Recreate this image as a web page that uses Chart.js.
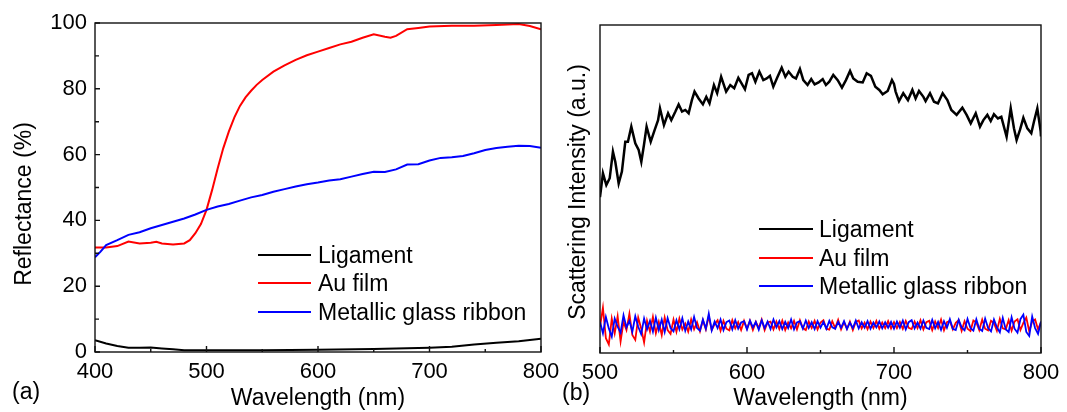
<!DOCTYPE html>
<html><head><meta charset="utf-8">
<script src="https://cdn.jsdelivr.net/npm/chart.js@4.4.1/dist/chart.umd.min.js"></script>
<style>
html,body{margin:0;padding:0;background:#fff;width:1067px;height:412px;overflow:hidden}
#wa{position:absolute;left:0;top:0;width:570px;height:412px}
#wb{position:absolute;left:550px;top:0;width:517px;height:412px}
</style></head><body>
<div id="wa"><canvas id="ca" width="570" height="412"></canvas></div>
<div id="wb"><canvas id="cb" width="517" height="412"></canvas></div>
<script>
// ---------- text ----------
const seriesNames = ['Ligament', 'Au film', 'Metallic glass ribbon'];
const seriesColors = ['#000000', '#ff0000', '#0000ff'];
const xTitle = 'Wavelength (nm)';
const yTitleA = 'Reflectance (%)';
const yTitleB = 'Scattering Intensity (a.u.)';
const panelLabelA = '(a)';
const panelLabelB = '(b)';

// ---------- panel (a): reflectance ----------
const ligWlA = [400,410,420,430,440,450,460,470,480,500,550,600,650,700,720,740,760,780,800];
const ligRA  = [3.6,2.6,1.8,1.3,1.3,1.4,1.1,0.8,0.5,0.5,0.5,0.7,0.9,1.3,1.6,2.3,2.8,3.3,4.0];

const auWlA = [400,410,420,430,440,450,455,460,470,480,485,490,495,500,505,510,515,520,525,530,535,540,545,550,560,570,580,590,600,610,620,630,640,650,660,665,670,680,690,700,720,740,760,780,790,800];
const auRA  = [31.8,31.8,32.2,33.6,33.0,33.2,33.5,33.0,32.7,33.0,34.0,36.1,38.9,43.2,49.2,55.8,61.9,67.0,71.3,74.8,77.4,79.4,81.2,82.7,85.2,87.1,88.8,90.2,91.3,92.4,93.5,94.3,95.5,96.6,95.8,95.5,96.1,98.1,98.5,98.9,99.2,99.2,99.4,99.7,99.1,98.1];

const ribWlA = [400,405,410,420,430,440,450,460,470,480,490,500,510,520,530,540,550,560,570,580,590,600,610,620,630,640,650,660,670,680,690,700,710,720,730,740,750,760,770,780,790,800];
const ribRA  = [28.8,30.5,32.5,34.0,35.6,36.4,37.6,38.6,39.6,40.6,41.8,43.2,44.2,45.0,46.0,47.0,47.7,48.7,49.5,50.3,51.0,51.5,52.1,52.5,53.3,54.1,54.8,54.7,55.5,57.0,57.1,58.2,59.0,59.2,59.6,60.4,61.4,62.0,62.4,62.7,62.6,62.1];

// ---------- panel (b): scattering intensity (arbitrary units 0-100) ----------
const ligWlB = [500,502,504.3,506.6,508.8,510.4,512.7,514.9,517.2,519,521.3,524,526.3,528.1,529.9,531.7,534.5,537.2,539.5,540.8,543.5,546.3,548.5,551.3,553.5,555.8,558,560.3,562.5,564.3,567.1,570,572.3,574.5,577.5,579.7,582.4,585.8,588.6,591.3,594.1,596.3,598.6,601.1,603.4,605.7,608.4,611.1,613.4,615.6,617.9,620.8,623.6,626.1,628.3,631.1,633.3,636,638.3,641.2,643.7,646,648.7,651.5,653.7,656,658.7,661.7,664.6,667.3,670.1,672.3,675.3,678.7,681.4,684.3,687.3,690,692.3,695.7,698.6,700,701.1,703.4,706.3,709.5,712.5,714.7,717,720,721.5,724.5,727.2,729.9,733.1,736.3,739,742.6,746.5,749.4,752.2,755.6,758.5,760.8,763.5,765.8,768,770.7,773,776.6,779.4,781.6,783.4,785.7,788,790.7,793.4,795.2,797.5,799.8,800];
const ligIB  = [47.5,54.8,51.2,53.3,61.4,58.3,51.7,55.3,64.4,64.4,69,63.9,61.9,58.3,63.4,69,64.4,68,71,74.6,69.5,73.1,71,73.6,75.8,73.6,74.1,73.1,77.1,79.7,77.6,75.8,78.1,76.1,81.7,79.2,84.2,79.7,81.7,80.7,83.9,82.2,80.4,84.8,85.3,82.7,85.8,83.2,83.7,84.5,81.2,84.2,87,84.2,85.8,84.2,83.7,86.6,83.2,81.7,83.5,81.9,82.5,83.5,81.7,82.7,84.8,83.2,80.9,83.2,86,83.7,82.7,82.5,85.3,84.5,81.2,80.2,78.9,79.9,83.2,82.0,79.7,76.8,79.2,77.1,80.2,77.6,79.9,78.1,76.8,79.2,76.6,76.1,79.2,77.1,74.1,72.6,74.8,72.6,70,73.1,69,71,72.6,70.7,72.8,71.5,72,65.9,74.6,68.5,64.9,68,71.7,68.5,67,70.5,74.6,67.5,66];

const noiseStartB = 500;   // nm
const noiseStepB = 2;      // nm
const auIB = [
 8.0,13.8,4.5,2.6,10.5,6.0,11.2,3.5,9.5,7.0,
 12.0,5.5,4.0,10.8,7.5,3.2,9.8,6.5,11.0,6.0,
 9.5,5.5,10.8,7.0,5.8,10.2,6.5,10.5,7.2,9.0,
 6.5,10.2,7.2,9.4,6.6,10.0,7.2,11.2,7.0,8.8,
 10.0,6.8,9.8,7.4,6.9,10.0,7.5,9.4,7.0,9.8,
 7.4,9.8,7.0,9.5,7.6,10.2,7.0,9.3,9.6,7.2,
 9.6,7.3,9.9,7.0,9.3,7.5,9.8,7.2,10.0,7.6,
 7.0,9.6,7.6,9.8,7.2,9.3,10.0,7.4,7.1,9.7,
 7.6,10.1,7.2,9.4,7.4,9.6,7.0,9.5,9.9,7.5,
 9.3,7.3,9.6,7.6,9.8,7.4,9.3,7.6,9.7,7.5,
 9.4,7.6,9.5,7.4,9.8,7.7,7.3,9.6,7.6,10.0,
 7.2,9.4,9.8,7.0,9.6,7.6,10.2,6.9,9.4,9.8,
 7.2,9.2,10.0,6.8,9.7,7.4,6.7,9.9,9.3,7.0,
 10.2,7.4,6.9,9.8,9.1,6.8,10.4,7.5,7.2,10.0,
 6.8,9.6,10.3,7.0,9.2,10.8,6.6,9.6,10.2,7.2,
 9.4];
const ribIB = [
 9.5,6.0,11.0,7.5,5.0,10.5,8.0,6.2,11.5,7.8,
 9.8,6.5,11.2,8.0,5.8,10.5,7.2,9.8,6.5,10.8,
 7.0,10.2,6.4,10.6,7.6,6.6,10.0,7.2,10.6,6.8,
 9.6,7.2,11.0,7.6,6.8,10.2,7.4,12.0,6.9,9.6,
 7.6,10.2,7.0,9.4,9.9,7.2,10.0,7.4,9.3,9.7,
 7.2,9.9,7.8,9.5,7.1,10.0,7.6,9.6,7.3,10.2,
 7.8,9.7,7.3,9.5,7.6,10.2,7.2,9.3,9.7,7.4,
 9.9,7.6,9.4,7.3,9.7,7.7,9.5,7.4,9.8,7.8,
 7.4,9.5,7.7,9.7,7.3,9.3,7.6,9.9,7.5,9.4,
 7.7,9.7,7.4,9.3,7.8,9.6,7.5,9.4,7.7,9.5,
 7.4,9.6,7.7,9.9,7.2,9.4,10.0,7.5,9.3,7.4,
 9.9,7.7,7.3,10.1,7.5,9.5,7.1,9.7,7.7,10.3,
 7.4,7.0,10.1,7.8,6.9,10.4,7.6,6.8,10.3,7.4,
 6.7,10.5,7.6,6.6,10.2,7.8,6.3,10.7,7.2,6.4,
 10.9,7.4,6.2,10.3,11.7,6.4,5.2,11.1,7.6,5.8,
 9.6];

// ---------- helpers ----------
const FONT = "'Liberation Sans', Arial, Helvetica, sans-serif";
const pairs = (xs, ys) => xs.map((x, i) => ({x: x, y: ys[i]}));
const evenPairs = (start, step, ys) => ys.map((y, i) => ({x: start + i * step, y: y}));

const decorPlugin = {
  id: 'decor',
  afterDraw(chart, args, o) {
    const ctx = chart.ctx, a = chart.chartArea;
    const xs = chart.scales.x, ys = chart.scales.y;
    ctx.save();
    ctx.strokeStyle = '#111';
    ctx.lineWidth = 1.4;
    ctx.beginPath();
    const xt = xs.ticks.map(t => t.value);
    xt.forEach((v, i) => {
      const p = xs.getPixelForValue(v);
      ctx.moveTo(p, a.bottom); ctx.lineTo(p, a.bottom - o.xMajor);
      if (i < xt.length - 1) {
        const m = xs.getPixelForValue((v + xt[i + 1]) / 2);
        ctx.moveTo(m, a.bottom); ctx.lineTo(m, a.bottom - o.xMinor);
      }
    });
    if (o.yTicks) {
      const yt = ys.ticks.map(t => t.value);
      yt.forEach((v, i) => {
        const p = ys.getPixelForValue(v);
        ctx.moveTo(a.left, p); ctx.lineTo(a.left + o.yMajor, p);
        if (i < yt.length - 1) {
          const m = ys.getPixelForValue((v + yt[i + 1]) / 2);
          ctx.moveTo(a.left, m); ctx.lineTo(a.left + o.yMinor, m);
        }
      });
    }
    ctx.stroke();
    ctx.strokeRect(a.left, a.top, a.right - a.left, a.bottom - a.top);

    // legend
    ctx.font = o.fontSize + 'px ' + FONT;
    ctx.textAlign = 'left';
    ctx.textBaseline = 'alphabetic';
    chart.data.datasets.forEach((ds, i) => {
      const y = o.legend.rows[i];
      ctx.strokeStyle = ds.borderColor;
      ctx.lineWidth = 2;
      ctx.beginPath(); ctx.moveTo(o.legend.x0, y); ctx.lineTo(o.legend.x1, y); ctx.stroke();
      ctx.fillStyle = '#000';
      ctx.fillText(ds.label, o.legend.tx, y + 7.5);
    });

    // axis titles and panel label
    ctx.fillStyle = '#000';
    ctx.textAlign = 'center';
    ctx.fillText(o.xTitle, (a.left + a.right) / 2, o.xTitleBase);
    ctx.save();
    ctx.translate(o.yTitleBase, o.yTitleCenter);
    ctx.rotate(-Math.PI / 2);
    ctx.fillText(o.yTitle, 0, 0);
    ctx.restore();
    ctx.textAlign = 'left';
    ctx.fillText(o.panel, o.panelX, o.panelBase);
    ctx.restore();
  }
};

const tickFont = {family: FONT, size: 22};

function makeDatasets(sets, width) {
  return sets.map((d, i) => ({
    label: seriesNames[i],
    data: d,
    borderColor: seriesColors[i],
    backgroundColor: seriesColors[i],
    borderWidth: width[i],
    pointRadius: 0,
    tension: 0,
    fill: false,
    order: [2, 1, 0][i]
  }));
}

const noGrid = {display: false, drawTicks: false};

// ---------- chart (a) ----------
new Chart(document.getElementById('ca'), {
  type: 'line',
  data: {
    datasets: makeDatasets([pairs(ligWlA, ligRA), pairs(auWlA, auRA), pairs(ribWlA, ribRA)], [2, 2, 2])
  },
  options: {
    responsive: false, animation: false, devicePixelRatio: 1,
    layout: {padding: {left: 0, right: 29, top: 23, bottom: 0}},
    plugins: {
      legend: {display: false}, tooltip: {enabled: false},
      decor: {
        xMajor: 6, xMinor: 3, yTicks: true, yMajor: 5, yMinor: 4, fontSize: 23,
        legend: {x0: 258, x1: 311, tx: 318, rows: [255, 283, 312]},
        xTitle: xTitle, xTitleBase: 404.5,
        yTitle: yTitleA, yTitleBase: 31, yTitleCenter: 204,
        panel: panelLabelA, panelX: 12, panelBase: 399
      }
    },
    scales: {
      x: {type: 'linear', min: 400, max: 800,
          ticks: {stepSize: 100, font: tickFont, color: '#000', padding: 7, maxRotation: 0},
          grid: noGrid, border: {display: false},
          afterFit: s => { s.height = 60; }},
      y: {type: 'linear', min: 0, max: 100,
          ticks: {stepSize: 20, font: tickFont, color: '#000', padding: 8},
          grid: noGrid, border: {display: false},
          afterFit: s => { s.width = 95; }}
    }
  },
  plugins: [decorPlugin]
});

// ---------- chart (b) ----------
new Chart(document.getElementById('cb'), {
  type: 'line',
  data: {
    datasets: makeDatasets([pairs(ligWlB, ligIB), evenPairs(noiseStartB, noiseStepB, auIB), evenPairs(noiseStartB, noiseStepB, ribIB)], [2.5, 1.8, 1.8])
  },
  options: {
    responsive: false, animation: false, devicePixelRatio: 1,
    layout: {padding: {left: 0, right: 26, top: 25, bottom: 0}},
    plugins: {
      legend: {display: false}, tooltip: {enabled: false},
      decor: {
        xMajor: 6, xMinor: 3, yTicks: false, fontSize: 23,
        legend: {x0: 209, x1: 263, tx: 269, rows: [229, 258, 286]},
        xTitle: xTitle, xTitleBase: 405,
        yTitle: yTitleB, yTitleBase: 35, yTitleCenter: 192,
        panel: panelLabelB, panelX: 12, panelBase: 400
      }
    },
    scales: {
      x: {type: 'linear', min: 500, max: 800,
          ticks: {stepSize: 100, font: tickFont, color: '#000', padding: 7, maxRotation: 0},
          grid: noGrid, border: {display: false},
          afterFit: s => { s.height = 59; }},
      y: {type: 'linear', min: 0, max: 100,
          ticks: {display: false},
          grid: noGrid, border: {display: false},
          afterFit: s => { s.width = 50; }}
    }
  },
  plugins: [decorPlugin]
});
</script>
</body></html>
